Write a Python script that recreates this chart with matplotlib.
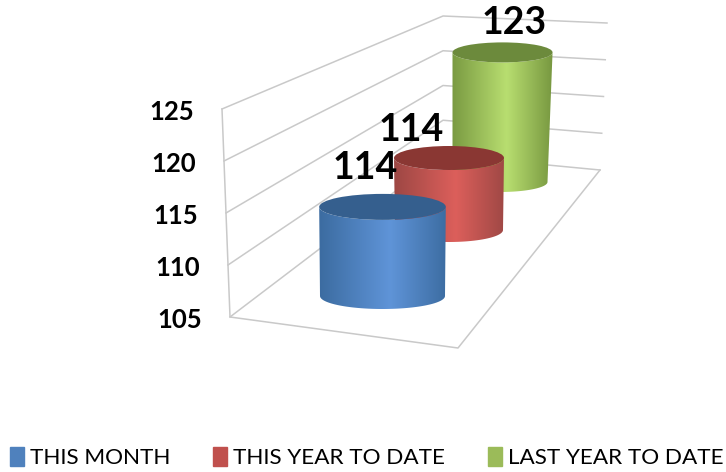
import numpy as np
from matplotlib import pyplot as plt
from matplotlib.patches import Ellipse, Patch, PathPatch
from matplotlib.path import Path

categories = ['THIS MONTH', 'THIS YEAR TO DATE', 'LAST YEAR TO DATE']
values = [114, 114, 123]
tick_values = [105, 110, 115, 120, 125]

plt.rcParams['font.family'] = ['Lato', 'DejaVu Sans']

# Colours: edge of side, highlight of side, top cap, legend swatch
side_edge = ['#3a6a9e', '#9a4643', '#76963f']
side_light = ['#5f94d8', '#dc5f5b', '#b8de70']
cap_color = ['#355f8e', '#8a3733', '#6c8a3c']
legend_color = ['#4f81bd', '#c0504d', '#9bbb59']

# Projection of the fake 3D box, in pixels of the figure
floor_left, top_left = (230, 317), (222, 109)
floor_back, top_back = (443, 155), (443, 16)
floor_right, top_right = (600, 170), (607, 23)
floor_front = (458, 348)
axis_min, axis_max = tick_values[0], tick_values[-1]

# Where each cylinder stands: base centre, radii, pixels per unit, lean
slot_x = [382.5, 449, 500]
slot_base_y = [296, 230, 182]
slot_rx = [62.5, 54, 47.5]
slot_ry = [13, 12, 10]
slot_unit = [9.9, 8.0, 7.2]
slot_lean = [0.0, 0.0, 0.14]
slot_grow = [0.09, 0.11, 0.14]
label_dx = [-17, -38, 12]
label_dy = [-39, -28, -29]


def on_edge(bottom, top, v):
    t = (v - axis_min) / (axis_max - axis_min)
    return bottom[0] + t * (top[0] - bottom[0]), bottom[1] + t * (top[1] - bottom[1])


def side_path(x0, y0, r0, x1, y1, r1, ry):
    a = np.linspace(np.pi, 0, 50)
    bx = x0 + r0 * np.cos(a)
    by = y0 + ry * np.sin(a)
    tx = x1 + r1 * np.cos(a[::-1])
    ty = y1 + ry * np.sin(a[::-1])
    return Path(np.column_stack([np.r_[bx, tx, bx[0]], np.r_[by, ty, by[0]]]), closed=False)


fig = plt.figure(figsize=(7.26, 4.72), dpi=100)
ax = fig.add_axes([0, 0, 1, 1])
grid = '#c9c9c9'

# Walls and floor
for v in tick_values:
    p = [on_edge(floor_left, top_left, v), on_edge(floor_back, top_back, v), on_edge(floor_right, top_right, v)]
    ax.plot(*zip(*p), color=grid, lw=1.1, zorder=1)
    ax.text(p[0][0] - 50, p[0][1] + 3, str(v), fontsize=18.5, fontweight='bold', ha='center', va='center', zorder=20)
ax.plot(*zip(top_left, floor_left, floor_front, floor_right), color=grid, lw=1.1, zorder=1)

# Cylinders, back to front
for i in range(len(values) - 1, -1, -1):
    h = values[i] - axis_min
    x0, y0, r0 = slot_x[i], slot_base_y[i], slot_rx[i]
    x1, y1, r1 = x0 + slot_lean[i] * h, y0 - slot_unit[i] * h, r0 + slot_grow[i] * h
    ry = slot_ry[i]
    z = 5 + (len(values) - i) * 2

    edge = np.array(plt.matplotlib.colors.to_rgb(side_edge[i]))
    light = np.array(plt.matplotlib.colors.to_rgb(side_light[i]))
    s = np.linspace(0, 1, 200)
    w = np.interp(s, [0, 0.55, 1], [0, 1, 0])[:, None]
    grad = (edge + (light - edge) * w)[None, :, :]

    im = ax.imshow(grad, extent=[x0 - r0 - 4, x0 + r0 + 6, y0 + ry + 2, y1 - ry - 2], aspect='auto', zorder=z)
    clip = PathPatch(side_path(x0, y0, r0, x1, y1, r1, ry), transform=ax.transData, fc='none', ec='none')
    ax.add_patch(clip)
    im.set_clip_path(clip)
    ax.add_patch(Ellipse((x1, y1), 2 * r1, 2 * ry, fc=cap_color[i], ec='none', zorder=z + 1))
    ax.text(x1 + label_dx[i], y1 + label_dy[i], str(values[i]), fontsize=27, fontweight='bold',
            ha='center', va='center', zorder=20)

ax.set_xlim(0, 726)
ax.set_ylim(472, 0)
ax.axis('off')

handles = [Patch(color=c, label=n) for c, n in zip(legend_color, categories)]
fig.legend(handles=handles, ncol=3, frameon=False, loc='lower left', bbox_to_anchor=(10 / 726, 4 / 472),
           fontsize=16.2, handlelength=0.62, handleheight=0.9, handletextpad=0.27, columnspacing=1.9,
           borderpad=0, borderaxespad=0)

plt.savefig('out.png', dpi=100)
